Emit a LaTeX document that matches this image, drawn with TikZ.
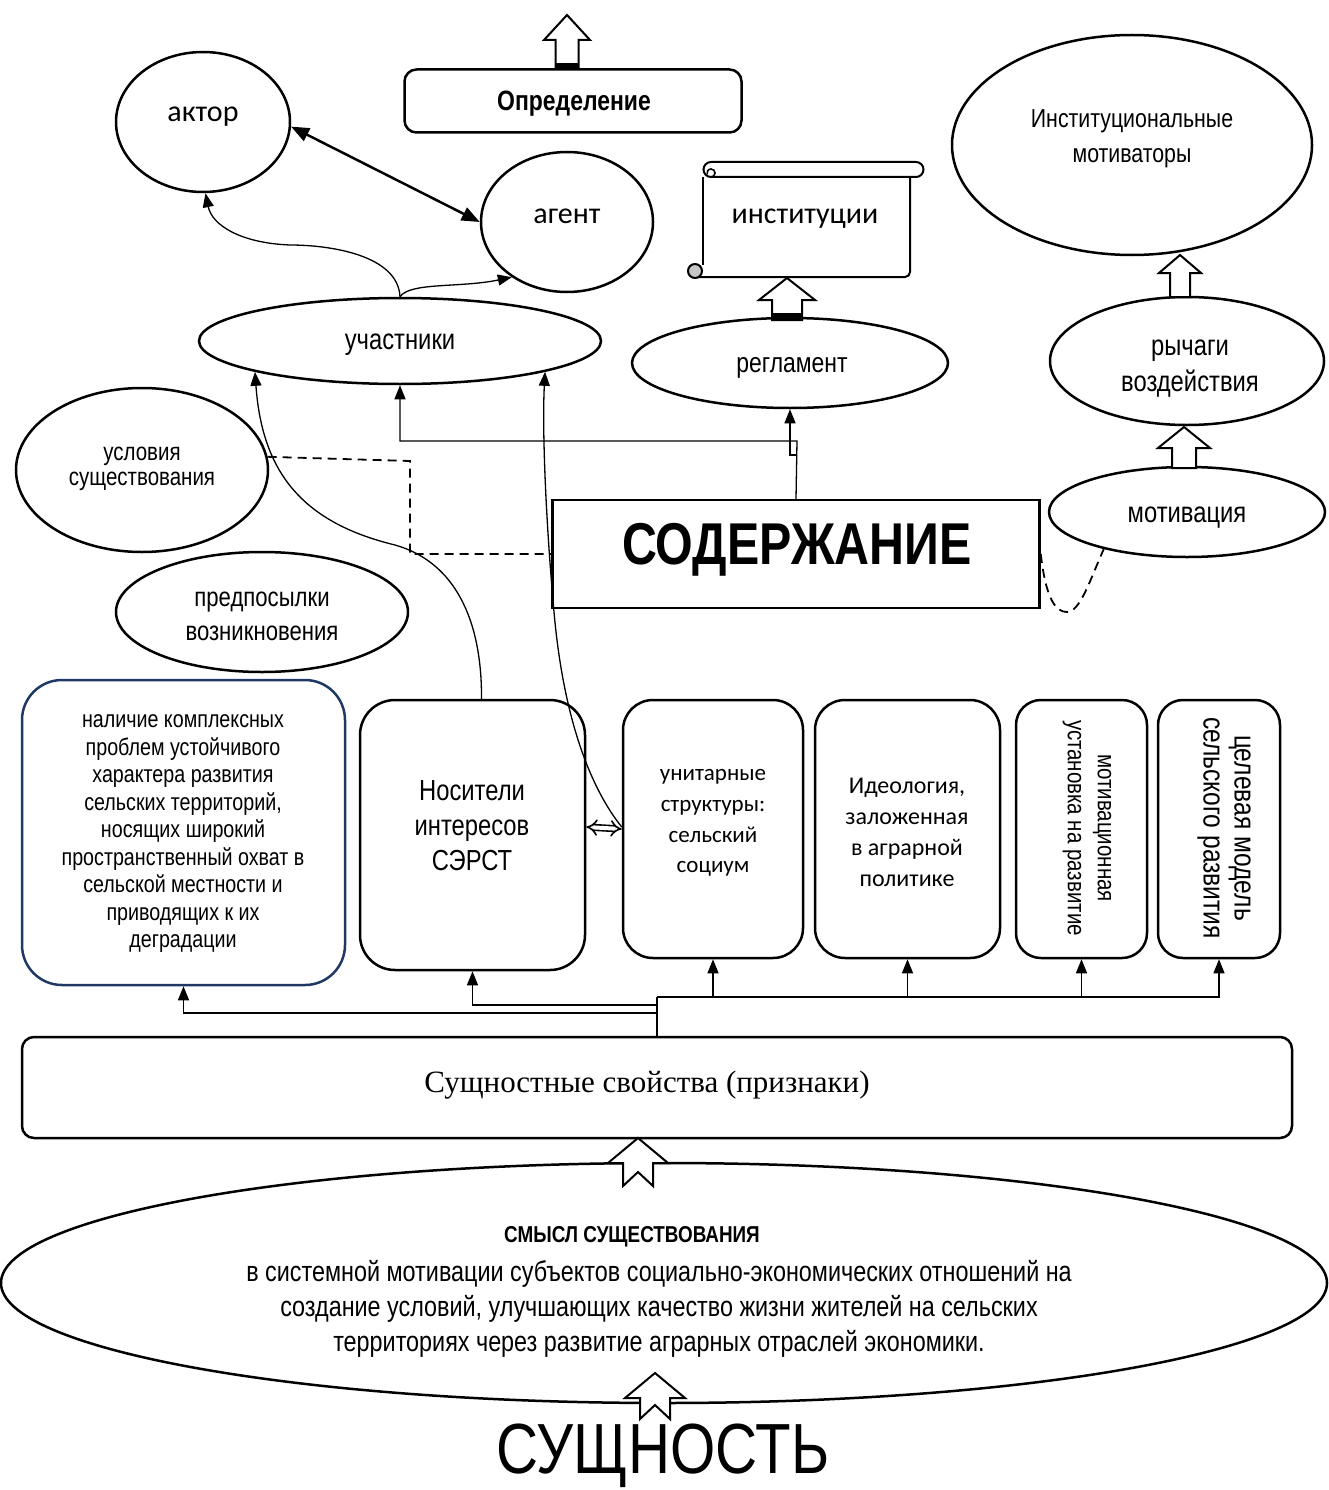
\documentclass[tikz,border=0pt]{standalone}
\usepackage{fontspec}
\setmainfont{Liberation Sans}
\newfontfamily\narfont[FakeStretch=0.82]{Liberation Sans}
\newfontfamily\calfont{Carlito}
\newfontfamily\serfont{Liberation Serif}
\usetikzlibrary{shapes.geometric,arrows.meta}
\newcommand\fsz[2]{\fontsize{#1}{#2}\selectfont}
\newcommand\blockup[6]{\filldraw[barrow] (#1,#2) -- ({#1+#3},#4) -- ({#1+#5},#4) -- ({#1+#5},#6) -- ({#1-#5},#6) -- ({#1-#5},#4) -- ({#1-#3},#4) -- cycle;}
\newcommand\notchup[7]{\filldraw[barrow] (#1,#2) -- ({#1+#3},#4) -- ({#1+#5},#4) -- ({#1+#5},#6) -- (#1,#7) -- ({#1-#5},#6) -- ({#1-#5},#4) -- ({#1-#3},#4) -- cycle;}
\definecolor{navy}{RGB}{31,56,100}
\tikzset{
 ell/.style={ellipse, draw, line width=2.5pt, fill=white, inner sep=0pt},
 rbox/.style={draw, line width=2.5pt, fill=white, inner sep=0pt},
 conn/.style={line width=1.3pt, -{Triangle[length=14pt,width=11pt]}},
 trunk/.style={line width=1.6pt},
 barrow/.style={line width=2pt, fill=white, line join=miter},
 dashln/.style={line width=1.8pt, dash pattern=on 9pt off 6pt},
}
\begin{document}
\begin{tikzpicture}[x=1pt,y=-1pt]
\useasboundingbox (0,0) rectangle (1328,1490);

% ---------- top ----------
\node[rbox, rounded corners=12pt, minimum width=337pt, minimum height=63pt] (def) at (573,101) {};
\node[font=\narfont\bfseries\fsz{28}{30}] (defT) at (574,104) {Определение};
\blockup{567}{15}{23}{40}{11.5}{69}
\fill (555.5,63) rectangle (578.5,69);

\node[ell, minimum width=174pt, minimum height=140pt] (aktor) at (203,122) {};
\node[font=\calfont\fsz{30}{34}] (aktorT) at (203,117) {актор};
\node[ell, minimum width=172pt, minimum height=140pt] (agent) at (567,222) {};
\node[font=\calfont\fsz{30}{34}] (agentT) at (567,216) {агент};
\draw[line width=2.5pt, {Triangle[length=18pt,width=14pt]}-{Triangle[length=18pt,width=14pt]}] (aktor.-3) -- (agent.180);

\node[ell, minimum width=360pt, minimum height=220pt] (inst) at (1132,145) {};
\node[font=\narfont\fsz{26}{35}, align=center] (instT) at (1132,139) {Институциональные\\мотиваторы};

% scroll
\draw[line width=2pt] (703,177) -- (703,265);
\draw[line width=2pt, rounded corners=5pt] (695,277) -- (910,277) -- (910,177);
\filldraw[line width=2pt, fill=white] (711,162) -- (916,162) arc[start angle=-90, end angle=90, radius=7.5] -- (711,177) arc[start angle=90, end angle=270, radius=7.5] -- cycle;
\draw[line width=1.6pt] (711,177) arc[start angle=90, end angle=-200, radius=4];
\filldraw[fill=gray!45, line width=2pt] (695,271) circle (7pt);
\node[font=\calfont\fsz{30}{34}] (institT) at (805,219) {институции};

% ---------- middle ellipses ----------
\node[ell, minimum width=402pt, minimum height=86pt] (uch) at (400,341) {};
\node[font=\narfont\fsz{29}{33}] (uchT) at (400,345) {участники};
\node[ell, minimum width=316pt, minimum height=90pt] (regl) at (790,363) {};
\node[font=\narfont\fsz{28}{32}] (reglT) at (792,368) {регламент};
\node[ell, minimum width=274pt, minimum height=128pt] (ryc) at (1187,361) {};
\node[font=\narfont\fsz{29}{36}, align=center] (rycT) at (1190,369) {рычаги\\воздействия};
\node[ell, minimum width=276pt, minimum height=90pt] (mot) at (1187,512) {};
\node[font=\narfont\fsz{29}{33}] (motT) at (1187,518) {мотивация};
\node[ell, minimum width=252pt, minimum height=164pt] (usl) at (142,470) {};
\node[font=\narfont\fsz{25}{25}, align=center] (uslT) at (142,469) {условия\\существования};
\node[ell, minimum width=292pt, minimum height=120pt] (pred) at (262,612) {};
\node[font=\narfont\fsz{27}{34}, align=center] (predT) at (262,616) {предпосылки\\возникновения};

\node[draw, line width=2.5pt, fill=white, minimum width=487pt, minimum height=108pt, inner sep=0pt] (sod) at (796,554) {};
\node[font=\narfont\bfseries\fsz{59}{60}] (sodT) at (797,550) {СОДЕРЖАНИЕ};

% block arrows (upper)
\blockup{787}{278}{28}{300}{15}{320}
\fill (772,313) rectangle (802,320);
\blockup{1180}{255}{21}{273}{10}{297}
\blockup{1184}{427}{26}{448}{12}{468}

% ---------- bottom boxes ----------
\node[draw=navy, line width=2.5pt, fill=white, rounded corners=40pt, minimum width=323pt, minimum height=305pt, inner sep=0pt] (b1) at (183.5,832.5) {};
\node[font=\narfont\fsz{24}{27.5}, align=center] (b1T) at (183,834) {наличие комплексных\\проблем устойчивого\\характера развития\\сельских территорий,\\носящих широкий\\пространственный охват в\\сельской местности и\\приводящих к их\\деградации};
\node[rbox, rounded corners=35pt, minimum width=225pt, minimum height=270pt] (nos) at (472.5,835) {};
\node[font=\narfont\fsz{29}{35}, align=center] (nosT) at (472,826) {Носители\\интересов\\СЭРСТ};
\node[rbox, rounded corners=30pt, minimum width=180pt, minimum height=258pt] (b3) at (713,829) {};
\node[font=\calfont\fsz{23}{30.7}, align=center] (b3T) at (713,823) {унитарные\\структуры:\\сельский\\социум};
\node[rbox, rounded corners=30pt, minimum width=185pt, minimum height=258pt] (b4) at (907.5,829) {};
\node[font=\calfont\fsz{24}{31}, align=center] (b4T) at (907,832) {Идеология,\\заложенная\\в аграрной\\политике};
\node[rbox, rounded corners=25pt, minimum width=131pt, minimum height=258pt] (b5) at (1081.5,829) {};
\node[font=\narfont\fsz{25}{30}, align=center, rotate=-90] (b5T) at (1087,828) {мотивационная\\установка на развитие};
\node[rbox, rounded corners=25pt, minimum width=122pt, minimum height=258pt] (b6) at (1219,829) {};
\node[font=\narfont\fsz{30}{31}, align=center, rotate=-90] (b6T) at (1224,828) {целевая модель\\сельского развития};

\node[rbox, rounded corners=12pt, minimum width=1270pt, minimum height=101pt] (suz) at (657,1087.5) {};
\node[font=\serfont\fsz{31}{34}] (suzT) at (647,1085) {Сущностные свойства (признаки)};

\node[ell, minimum width=1326pt, minimum height=240pt] (big) at (664,1283) {};
\node[font=\narfont\bfseries\fsz{23}{26}] (bigH) at (632,1237) {СМЫСЛ СУЩЕСТВОВАНИЯ};
\node[font=\narfont\fsz{28.5}{35}, align=center] (bigT) at (659,1309) {в системной мотивации субъектов социально-экономических отношений на\\создание условий, улучшающих качество жизни жителей на сельских\\территориях через развитие аграрных отраслей экономики.};

\node[font=\narfont\fsz{71}{74}, inner sep=0pt] (essence) at (663,1456) {СУЩНОСТЬ};

\notchup{638}{1138}{30}{1163}{15}{1186}{1172}
\notchup{655}{1373}{30}{1398}{15}{1419}{1405}

% ---------- connectors ----------
\draw[conn] (uch.north) .. controls (398,255) and (330,245) .. (290,245) .. controls (240,243) and (212,225) .. (aktor.-88);
\draw[conn] (uch.north) .. controls (410,282) and (460,288) .. (agent.-135);

\coordinate (j1) at (797,441);
\coordinate (j2) at (797,455);
\draw[conn] (sod.north) -- (j1) -| (uch.south);
\draw[conn] (j2) -- (j2 -| regl.south) -- (regl.south);

\coordinate (dk) at (410,461);
\draw[dashln] (usl.6) -- (dk) |- (sod.west);
\draw[dashln] (sod.east) .. controls (1046,600) and (1056,612) .. (1067,612) .. controls (1080,612) and (1090,580) .. (mot.-156);

\draw[conn] ([xshift=9pt]nos.north) .. controls (482,620) and (455,562) .. (395,545) .. controls (300,522) and (262,470) .. (uch.-168);
\draw[double, double distance=4pt, line width=1.6pt, {Implies}-{Implies}] ([yshift=8pt]nos.east) -- (b3.west);
\draw[conn] ([yshift=2pt]b3.west) .. controls (592,790) and (562,720) .. (553,600) .. controls (546,520) and (542,430) .. (uch.-12);

\coordinate (t1) at (657,997);
\coordinate (t2) at (657,1005);
\coordinate (t3) at (657,1013);
\draw[trunk] (suz.north) -- (t1);
\draw[conn] (t1) -| (b3.south);
\draw[conn] (t1) -| (b4.south);
\draw[conn] (t1) -| (b5.south);
\draw[conn] (t1) -| (b6.south);
\draw[conn] (t2) -| (nos.south);
\draw[conn] (t3) -| (b1.south);
\end{tikzpicture}
\end{document}
